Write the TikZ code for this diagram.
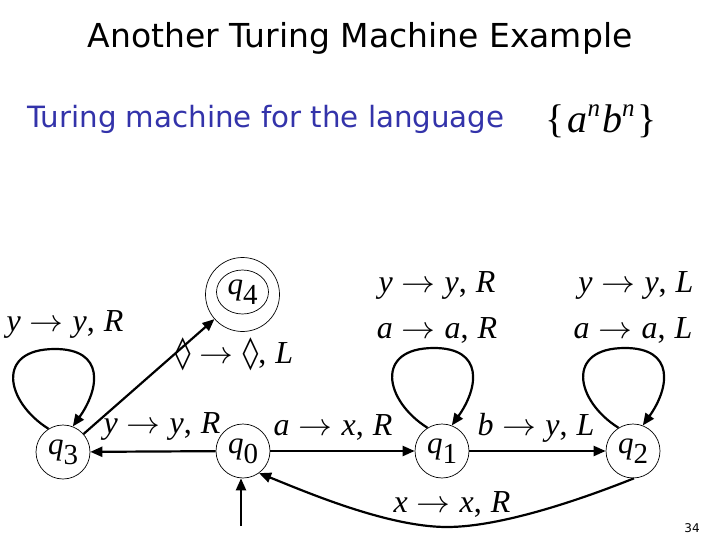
\documentclass[tikz,border=0pt]{standalone}
\usepackage{graphicx}
\usepackage{fontspec}
\usetikzlibrary{arrows.meta,shapes.geometric,calc}
\setmainfont{Liberation Serif}
\newfontfamily\dejasans{DejaVu Sans}
\newfontfamily\dejaserif{DejaVu Serif}
\definecolor{subblue}{RGB}{51,51,170}
\newcommand\tarrow{\scalebox{1.36}[1.25]{$\rightarrow$}}
\newcommand\tlab[3]{\textit{#1}\hspace{9pt}\tarrow\hspace{9pt}\textit{#2},\hspace{9pt}\textit{#3}}
\newcommand\stlab[1]{\textit{q}\raisebox{-10pt}{\fontsize{29}{29}\selectfont #1}}
\newcommand\selfloop[1]{\draw[arr] (#1.122) .. controls +(-43,-27) and +(-60,0) .. ([shift={(-8,-103)}]#1.center) .. controls +(50,0) and +(27,-38) .. (#1.69);}
\begin{document}
\begin{tikzpicture}[x=1pt,y=-1pt,
  state/.style={circle,draw,line width=0.7pt,minimum size=54pt,inner sep=0pt,font=\fontsize{31}{31}\selectfont},
  arr/.style={line width=2.2pt,-{Triangle[length=12pt,width=10pt]}},
  lab/.style={anchor=base,inner sep=0pt,font=\fontsize{32}{32}\selectfont}]
\useasboundingbox (0,0) rectangle (720,540);
% title
\node[anchor=base,font=\dejasans\fontsize{33}{33}\selectfont] (title) at (360,48) {Another Turing Machine Example};
\node[anchor=base west,inner sep=0pt,text=subblue,font=\dejasans\fontsize{29.3}{29.3}\selectfont] (sub) at (27,128) {Turing machine for the language};
\node[anchor=base,inner sep=0pt,font=\fontsize{40}{40}\selectfont] (lang) at (601,133) {\{\hspace{3pt}\textit{a}\raisebox{16pt}{\fontsize{25}{25}\selectfont\textit{n}}\hspace{2pt}\textit{b}\raisebox{16pt}{\fontsize{25}{25}\selectfont\textit{n}}\hspace{3pt}\}};
% states
\node[state] (q3) at (63,452) {\stlab{3}};
\node[state] (q0) at (243,451) {\stlab{0}};
\node[state] (q1) at (442,451) {\stlab{1}};
\node[state] (q2) at (633,451) {\stlab{2}};
\node[circle,draw,line width=0.7pt,minimum size=74pt,inner sep=0pt] (q4) at (242.5,294.5) {};
\node[ellipse,draw,line width=0.7pt,minimum width=52pt,minimum height=44pt,inner sep=0pt,font=\fontsize{31}{31}\selectfont] (q4i) at (242.5,292) {\stlab{4}};
% edges
\draw[arr] (q0) -- (q3);
\draw[arr] (q0) -- (q1);
\draw[arr] (q1) -- (q2);
\draw[arr] (q3) -- (q4);
\selfloop{q3}
\selfloop{q1}
\selfloop{q2}
\coordinate (xb) at (447,527);
\draw[arr] (q2.272) .. controls +(-50,20) and +(55,0) .. (xb) .. controls +(-60,0) and +(45,18) .. (q0.306);
\coordinate (start) at (241,526);
\draw[arr] (start) -- (start |- q0.south);
% labels
\node[lab] (l1) at (65,331) {\tlab{y}{y}{R}};
\node[lab] (l2) at (234,363) {{\dejaserif ◊}\hspace{9pt}\tarrow\hspace{9pt}{\dejaserif ◊},\hspace{9pt}\textit{L}};
\node[lab] (l3) at (162,433) {\tlab{y}{y}{R}};
\node[lab] (l4) at (333,435) {\tlab{a}{x}{R}};
\node[lab] (l5) at (536,435) {\tlab{b}{y}{L}};
\node[lab] (l6) at (437,292) {\tlab{y}{y}{R}};
\node[lab] (l7) at (437,338) {\tlab{a}{a}{R}};
\node[lab] (l8) at (636,292) {\tlab{y}{y}{L}};
\node[lab] (l9) at (633,338) {\tlab{a}{a}{L}};
\node[lab] (l10) at (452,512) {\tlab{x}{x}{R}};
\node[anchor=base,font=\dejasans\fontsize{12}{12}\selectfont] (pg) at (692,532) {34};
\end{tikzpicture}
\end{document}
